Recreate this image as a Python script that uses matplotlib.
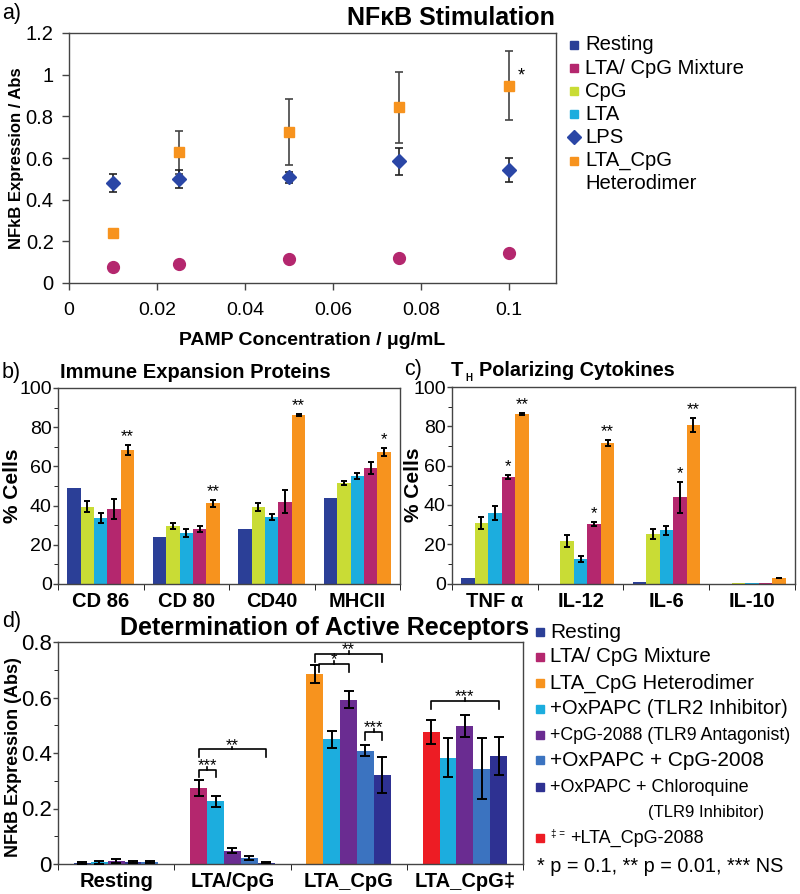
import numpy as np
import matplotlib
matplotlib.use("Agg")
import matplotlib.pyplot as plt
from matplotlib.lines import Line2D
from matplotlib.ticker import MultipleLocator

plt.rcParams['font.family'] = ['Liberation Sans', 'DejaVu Sans']

# colours
C_REST = '#2b3f97'
C_MIX = '#b4276e'
C_CPG = '#c9dc35'
C_LTA = '#1cadde'
C_LPS = '#2a46a6'
C_HET = '#f7931e'
C_2088 = '#6a2c91'
C_OXCPG = '#3b73c0'
C_CHLORO = '#2e3192'
C_RED = '#ed1c24'

# ---- panel a data ----
conc = [0.01, 0.025, 0.05, 0.075, 0.1]
lps = [0.478, 0.499, 0.507, 0.585, 0.542]
lps_err = [0.043, 0.045, 0.027, 0.065, 0.058]
het = [0.238, 0.627, 0.723, 0.843, 0.947]
het_err = [0.02, 0.102, 0.158, 0.17, 0.165]
mix = [0.075, 0.091, 0.115, 0.121, 0.145]
mix_err = [0.0, 0.0, 0.0, 0.0, 0.01]

# ---- panel b data (Resting, CpG, LTA, Mixture, Heterodimer) ----
b_cats = ['CD 86', 'CD 80', 'CD40', 'MHCII']
b_rest = [48.9, 23.9, 28.1, 43.8]
b_cpg = [39.5, 29.8, 39.2, 51.4]
b_cpg_err = [3.0, 1.5, 2.0, 1.0]
b_lta = [33.6, 26.0, 34.4, 55.1]
b_lta_err = [2.5, 2.0, 1.5, 1.5]
b_mix = [38.3, 28.1, 42.0, 59.3]
b_mix_err = [5.0, 1.5, 6.0, 3.0]
b_het = [68.3, 41.2, 86.1, 67.5]
b_het_err = [2.5, 1.8, 0.5, 2.0]
b_het_star = ['**', '**', '**', '*']

# ---- panel c data ----
c_cats = ['TNF \u03b1', 'IL-12', 'IL-6', 'IL-10']
c_rest = [3.0, 0.0, 0.6, 0.0]
c_cpg = [30.7, 21.5, 25.0, 0.3]
c_cpg_err = [3.0, 3.0, 2.5, 0.0]
c_lta = [35.8, 12.4, 27.0, 0.3]
c_lta_err = [3.5, 1.5, 2.5, 0.0]
c_mix = [54.0, 30.2, 43.8, 0.5]
c_mix_err = [1.0, 1.0, 8.0, 0.0]
c_het = [86.2, 71.5, 80.6, 2.8]
c_het_err = [0.5, 1.5, 3.5, 0.2]
c_mix_star = ['*', '*', '*', '']
c_het_star = ['**', '**', '**', '']

# ---- panel d data ----
d_cats = ['Resting', 'LTA/CpG', 'LTA_CpG', 'LTA_CpG\u2021']
d_vals = [[0.004, 0.006, 0.012, 0.008, 0.008],
          [0.274, 0.226, 0.048, 0.021, 0.005],
          [0.685, 0.449, 0.592, 0.409, 0.322],
          [0.477, 0.383, 0.498, 0.343, 0.389]]
d_errs = [[0.004, 0.006, 0.007, 0.003, 0.003],
          [0.028, 0.02, 0.008, 0.008, 0.003],
          [0.033, 0.03, 0.03, 0.02, 0.065],
          [0.043, 0.07, 0.04, 0.11, 0.07]]
d_cols = [[C_REST, C_LTA, C_2088, C_CHLORO, C_OXCPG],
          [C_MIX, C_LTA, C_2088, C_OXCPG, C_CHLORO],
          [C_HET, C_LTA, C_2088, C_OXCPG, C_CHLORO],
          [C_RED, C_LTA, C_2088, C_OXCPG, C_CHLORO]]
# (group, from bar, to bar, height, label)
d_brackets = [(1, 0, 1, 0.34, '***'), (1, 0, 4, 0.413, '**'),
              (2, 0, 4, 0.757, '**'), (2, 0.25, 2, 0.721, '*'),
              (2, 3, 4, 0.476, '***'), (3, 0, 4, 0.588, '***')]

W, H = 800, 894
fig = plt.figure(figsize=(8, 8.94), dpi=100)


def px_axes(l, t, r, b):
    return fig.add_axes([l / W, 1 - b / H, (r - l) / W, (b - t) / H])


def ftext(x, y, s, **kw):
    fig.text(x / W, 1 - y / H, s, **kw)


def fmark(x, y, **kw):
    fig.add_artist(Line2D([x / W], [1 - y / H], transform=fig.transFigure,
                          linestyle='none', **kw))


def style(ax):
    for s in ax.spines.values():
        s.set_color('#444444')
        s.set_linewidth(1.0)
    ax.tick_params(direction='out', length=4, width=1, color='#444444')


ek = dict(ecolor='black', elinewidth=1.4, capsize=2.5, capthick=1.4)

# ================= panel a =================
ax = px_axes(69, 33, 556, 283)
style(ax)
ax.errorbar(conc, het, yerr=het_err, fmt='s', color=C_HET, ms=7,
            ecolor='#444444', elinewidth=1.2, capsize=3, capthick=1.2, zorder=3)
ax.errorbar(conc, lps, yerr=lps_err, fmt='D', color=C_LPS, ms=7.5,
            ecolor='#222222', elinewidth=1.2, capsize=3, capthick=1.2, zorder=3)
ax.errorbar(conc, mix, yerr=mix_err, fmt='o', color=C_MIX, ms=8.5,
            ecolor='#222222', elinewidth=1.2, capsize=2, capthick=1.2, zorder=3)
ax.text(conc[-1] + 0.0027, het[-1] + 0.045, '*', fontsize=13, ha='center', va='center')
ax.set_xlim(0, 0.1107)
ax.set_ylim(0, 1.2)
ax.set_xticks([0, 0.02, 0.04, 0.06, 0.08, 0.1])
ax.set_xticklabels(['0', '0.02', '0.04', '0.06', '0.08', '0.1'], fontsize=14)
ax.set_yticks([0, 0.2, 0.4, 0.6, 0.8, 1.0, 1.2])
ax.set_yticklabels(['0', '0.2', '0.4', '0.6', '0.8', '1', '1.2'], fontsize=14.5)
ax.tick_params(axis='x', length=5, pad=9)
ax.tick_params(axis='y', length=5, pad=6)
ax.set_ylabel('NFkB Expression / Abs', fontsize=12, fontweight='bold')
ax.yaxis.set_label_coords(-0.092, 0.5)
ax.set_xlabel('PAMP Concentration / \u03bcg/mL', fontsize=14, fontweight='bold', labelpad=9)
ftext(451, 18, 'NF\u03baB Stimulation', fontsize=18, fontweight='bold', ha='center', va='center')
ftext(2, 14, 'a)', fontsize=15.5, va='center')

leg_a = [('Resting', 's', C_REST), ('LTA/ CpG Mixture', 's', C_MIX), ('CpG', 's', C_CPG),
         ('LTA', 's', C_LTA), ('LPS', 'D', C_LPS), ('LTA_CpG', 's', C_HET)]
for i, (lab, mk, col) in enumerate(leg_a):
    y = 45 + i * 23.1
    fmark(574, y, marker=mk, color=col, ms=7 if mk == 'D' else 5.5)
    ftext(585, y, lab, fontsize=14.6, va='center')
ftext(585, 183.5, 'Heterodimer', fontsize=14.6, va='center')


# ================= panels b, c =================
def grouped(ax, series, errs, cols, width):
    n = len(series)
    x = np.arange(len(series[0]))
    for k in range(n):
        off = (k - (n - 1) / 2) * width
        ax.bar(x + off, series[k], width, color=cols[k], zorder=2)
        if errs[k] is not None:
            e = np.array(errs[k])
            m = e > 0
            ax.errorbar((x + off)[m], np.array(series[k])[m], yerr=e[m], fmt='none', zorder=3, **ek)
    return x


def bar_axes(ax, cats):
    style(ax)
    ax.set_xlim(-0.5, len(cats) - 0.5)
    ax.set_xticks(np.arange(len(cats)))
    ax.set_xticklabels(cats, fontsize=14.5, fontweight='bold')
    ax.set_xticks(np.arange(len(cats) + 1) - 0.5, minor=True)
    ax.tick_params(axis='x', which='major', length=0, pad=6)
    ax.tick_params(axis='x', which='minor', length=4, direction='out')
    ax.tick_params(axis='y', which='major', length=3.5, pad=1)
    ax.tick_params(axis='y', which='minor', length=3)


bw = 0.157
ax = px_axes(58, 388, 400, 584)
bar_axes(ax, b_cats)
x = grouped(ax, [b_rest, b_cpg, b_lta, b_mix, b_het],
            [None, b_cpg_err, b_lta_err, b_mix_err, b_het_err],
            [C_REST, C_CPG, C_LTA, C_MIX, C_HET], bw)
for i in range(len(x)):
    ax.text(x[i] + 2 * bw, b_het[i] + b_het_err[i] + 0.5, b_het_star[i],
            ha='center', va='bottom', fontsize=12)
ax.set_ylim(0, 100)
ax.yaxis.set_major_locator(MultipleLocator(20))
ax.yaxis.set_minor_locator(MultipleLocator(10))
ax.tick_params(axis='y', which='both', labelsize=14)
ax.set_ylabel('% Cells', fontsize=15, fontweight='bold')
ax.yaxis.set_label_coords(-0.104, 0.5)
ftext(60, 372, 'Immune Expansion Proteins', fontsize=14.5, fontweight='bold', va='center')
ftext(2, 372, 'b)', fontsize=15.5, va='center')

ax = px_axes(452, 387, 795, 583.5)
bar_axes(ax, c_cats)
x = grouped(ax, [c_rest, c_cpg, c_lta, c_mix, c_het],
            [None, c_cpg_err, c_lta_err, c_mix_err, c_het_err],
            [C_REST, C_CPG, C_LTA, C_MIX, C_HET], bw)
for i in range(len(x)):
    if c_mix_star[i]:
        ax.text(x[i] + bw, c_mix[i] + c_mix_err[i] + 0.5, c_mix_star[i],
                ha='center', va='bottom', fontsize=12)
    if c_het_star[i]:
        ax.text(x[i] + 2 * bw, c_het[i] + c_het_err[i] + 0.5, c_het_star[i],
                ha='center', va='bottom', fontsize=12)
ax.set_ylim(0, 100)
ax.yaxis.set_major_locator(MultipleLocator(20))
ax.yaxis.set_minor_locator(MultipleLocator(10))
ax.tick_params(axis='y', which='both', labelsize=14)
ax.set_ylabel('% Cells', fontsize=15, fontweight='bold')
ax.yaxis.set_label_coords(-0.086, 0.5)
ftext(451, 371, 'T', fontsize=14.5, fontweight='bold', va='center')
ftext(465, 378, 'H', fontsize=7, fontweight='bold', va='center')
ftext(479, 371, 'Polarizing Cytokines', fontsize=14.3, fontweight='bold', va='center')
ftext(404, 369, 'c)', fontsize=15.5, va='center')

# ================= panel d =================
ax = px_axes(58, 642, 523, 864)
bar_axes(ax, d_cats)
dw = 0.145
for g in range(len(d_cats)):
    for k in range(5):
        xp = g + (k - 2) * dw
        ax.bar(xp, d_vals[g][k], dw, color=d_cols[g][k], zorder=2)
        ax.errorbar(xp, d_vals[g][k], yerr=d_errs[g][k], fmt='none', zorder=3,
                    ecolor='black', elinewidth=1.4, capsize=3.5, capthick=1.4)
for g, i, j, yb, lab in d_brackets:
    x0 = g + (i - 2) * dw
    x1 = g + (j - 2) * dw
    xm = (x0 + x1) / 2
    ax.plot([x0, x0, x1, x1], [yb - 0.028, yb, yb, yb - 0.028], color='black', lw=1.2, zorder=4)
    ax.plot([xm, xm], [yb, yb + 0.01], color='black', lw=1.2, zorder=4)
    ax.text(xm, yb - 0.002, lab, ha='center', va='baseline', fontsize=12)
ax.set_ylim(0, 0.8)
ax.set_yticks([0, 0.2, 0.4, 0.6, 0.8])
ax.set_yticklabels(['0', '0.2', '0.4', '0.6', '0.8'])
ax.yaxis.set_minor_locator(MultipleLocator(0.1))
ax.tick_params(axis='y', which='both', labelsize=16)
ax.set_ylabel('NFkB Expression (Abs)', fontsize=13, fontweight='bold')
ax.yaxis.set_label_coords(-0.077, 0.48)
ftext(325, 628, 'Determination of Active Receptors', fontsize=18, fontweight='bold',
      ha='center', va='center')
ftext(2, 622, 'd)', fontsize=15.5, va='center')

leg_d = [('Resting', C_REST, 15), ('LTA/ CpG Mixture', C_MIX, 14.8),
         ('LTA_CpG Heterodimer', C_HET, 14.6), ('+OxPAPC (TLR2 Inhibitor)', C_LTA, 14.6),
         ('+CpG-2088 (TLR9 Antagonist)', C_2088, 12.8), ('+OxPAPC + CpG-2008', C_OXCPG, 15),
         ('+OxPAPC + Chloroquine', C_CHLORO, 13)]
ys = [632, 657, 683, 709, 735, 760, 787]
for (lab, col, fs), y in zip(leg_d, ys):
    fmark(540, y, marker='s', color=col, ms=5.5)
    ftext(550, y, lab, fontsize=fs, va='center')
ftext(648, 813, '(TLR9 Inhibitor)', fontsize=12, va='center')
fmark(540, 838, marker='s', color=C_RED, ms=5.5)
ftext(551, 834, '\u2021 =', fontsize=7, va='center')
ftext(570, 838, '+LTA_CpG-2088', fontsize=13, va='center')
ftext(537, 867, '* p = 0.1, ** p = 0.01, *** NS', fontsize=14.3, va='center')

fig.savefig('out.png', dpi=100)
